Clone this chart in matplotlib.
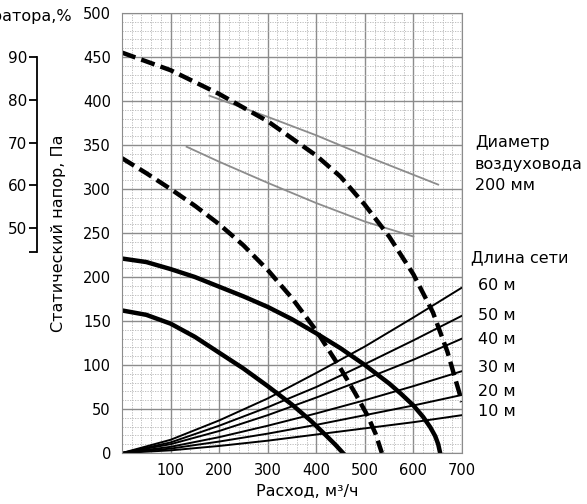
import matplotlib.pyplot as plt
from matplotlib.ticker import MultipleLocator

plt.rcParams['font.family'] = ['DejaVu Sans']
plt.rcParams['font.size'] = 10

# fan curves (solid)
fan_hi_q = [0, 50, 100, 150, 200, 250, 300, 350, 400, 450, 500, 550, 575, 600,
            620, 635, 645, 651, 655]
fan_hi_p = [221, 217, 209, 200, 189, 178, 166, 152, 136, 119, 100, 79, 67, 54,
            41, 29, 19, 10, 0]
fan_lo_q = [0, 50, 100, 150, 200, 250, 300, 350, 390, 420, 440, 455]
fan_lo_p = [162, 157, 147, 132, 114, 96, 76, 55, 36, 20, 9, 0]

# dashed curves
dash_hi_q = [0, 100, 200, 300, 400, 450, 500, 550, 600, 640, 670, 700]
dash_hi_p = [455, 435, 408, 377, 338, 314, 282, 246, 203, 160, 115, 58]
dash_lo_q = [0, 50, 100, 150, 200, 250, 300, 350, 400, 450, 480, 505, 522, 535]
dash_lo_p = [335, 318, 300, 281, 260, 236, 208, 176, 139, 96, 68, 43, 22, 0]

# efficiency lines (gray)
eff1_q = [180, 300, 400, 500, 651]
eff1_p = [406, 382, 361, 338, 305]
eff2_q = [133, 200, 300, 400, 500, 600]
eff2_p = [348, 331, 307, 284, 263, 246]

# network resistance curves, 60..10 m
net_q = [0, 100, 200, 300, 400, 500, 600, 700]
net_lengths = ['60 м', '50 м', '40 м', '30 м', '20 м', '10 м']
net_p = [
    [0, 15, 37, 62, 91, 121, 154, 188],
    [0, 12, 31, 52, 75, 101, 128, 156],
    [0, 10, 25, 43, 63, 84, 106, 130],
    [0, 7, 18, 31, 45, 60, 76, 93],
    [0, 5, 13, 22, 32, 43, 54, 66],
    [0, 3, 8, 14, 21, 28, 35, 43],
]
label_y = [285, 315, 340, 368, 392, 412]   # pixel rows of the labels

fig = plt.figure(figsize=(5.87, 5.04), dpi=100)
ax = fig.add_axes([122 / 587, 1 - 453 / 504, 340 / 587, 440 / 504])

ax.set_xlim(0, 700)
ax.set_ylim(0, 500)
ax.xaxis.set_major_locator(MultipleLocator(100))
ax.xaxis.set_minor_locator(MultipleLocator(20))
ax.yaxis.set_major_locator(MultipleLocator(50))
ax.yaxis.set_minor_locator(MultipleLocator(10))
ax.grid(which='major', color='#8c8c8c', lw=1.0)
ax.grid(which='minor', color='#b5b5b5', lw=0.6, ls=(0, (1.5, 1.5)))
ax.set_axisbelow(True)
for s in ax.spines.values():
    s.set_color('#8c8c8c')
ax.tick_params(which='both', length=0, labelsize=10.5, colors='black')
ax.tick_params(axis='x', pad=7)
ax.tick_params(axis='y', pad=8)
ax.set_xticks(range(100, 701, 100))

ax.plot(eff1_q, eff1_p, color='#8c8c8c', lw=1.3)
ax.plot(eff2_q, eff2_p, color='#8c8c8c', lw=1.3)

for p in net_p:
    ax.plot(net_q, p, color='black', lw=1.4)

ax.plot(fan_hi_q, fan_hi_p, color='black', lw=3.2)
ax.plot(fan_lo_q, fan_lo_p, color='black', lw=3.2)
ax.plot(dash_hi_q, dash_hi_p, color='black', lw=3.2, ls=(0, (3.2, 1.4)))
ax.plot(dash_lo_q, dash_lo_p, color='black', lw=3.2, ls=(0, (3.2, 1.4)))

fig.text(307 / 587, 1 - 491 / 504, 'Расход, м³/ч', fontsize=11.5,
         ha='center', va='center')
ax.set_ylabel('Статический напор, Па', fontsize=11.5)
ax.yaxis.set_label_coords(-0.165, 0.5)

# right side texts
for txt, py in zip(['Диаметр', 'воздуховода', '200 мм'], [143, 164, 185]):
    fig.text(475 / 587, 1 - py / 504, txt, fontsize=11.5, va='center')
fig.text(471 / 587, 1 - 258 / 504, 'Длина сети', fontsize=11.5, va='center')
for txt, py in zip(net_lengths, label_y):
    fig.text(478 / 587, 1 - py / 504, txt, fontsize=11.5, va='center')

# efficiency scale on the far left
eff_ticks = [50, 60, 70, 80, 90]
ax2 = fig.add_axes([37 / 587, 1 - 453 / 504, 0.001, 440 / 504])
ax2.set_ylim(-2.6, 100.3)
ax2.set_xticks([])
for k in ['top', 'right', 'bottom']:
    ax2.spines[k].set_visible(False)
ax2.spines['left'].set_bounds(44.5, 90)
ax2.spines['left'].set_linewidth(1.3)
ax2.set_yticks(eff_ticks + [44.5])
ax2.set_yticklabels([str(t) for t in eff_ticks] + [''])
ax2.tick_params(axis='y', length=6, width=1.3, labelsize=11, pad=1)
ax2.patch.set_visible(False)
fig.text(72 / 587, 1 - 16 / 504, 'КПД рекуператора,%', fontsize=11.5,
         ha='right', va='center')

fig.savefig('out.png', dpi=100)
